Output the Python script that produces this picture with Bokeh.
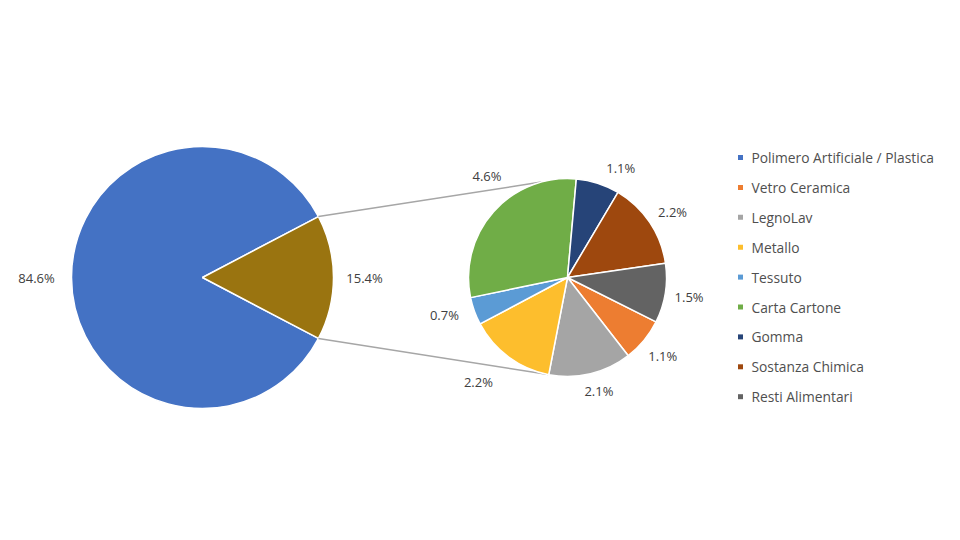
import math
from bokeh.plotting import figure
from bokeh.models import Range1d
from bokeh.embed import file_html
from bokeh.resources import INLINE
from bokeh.core.properties import value

# ---------------- data ----------------
main_categories = ["Polimero Artificiale / Plastica", "Altro"]
main_values = [84.6, 15.4]
main_label_text = ["84.6%", "15.4%"]

sub_categories = ["Vetro Ceramica", "LegnoLav", "Metallo", "Tessuto",
                  "Carta Cartone", "Gomma", "Sostanza Chimica", "Resti Alimentari"]
sub_values = [1.1, 2.1, 2.2, 0.7, 4.6, 1.1, 2.2, 1.5]
sub_label_text = ["1.1%", "2.1%", "2.2%", "0.7%", "4.6%", "1.1%", "2.2%", "1.5%"]

legend_labels = ["Polimero Artificiale / Plastica", "Vetro Ceramica", "LegnoLav", "Metallo",
                 "Tessuto", "Carta Cartone", "Gomma", "Sostanza Chimica", "Resti Alimentari"]

# ---------------- style ----------------
main_colors = ["#4472C4", "#9A7410"]
sub_colors = ["#ED7D31", "#A5A5A5", "#FDBE2D", "#5B9BD5", "#70AD47", "#264478", "#9E480E", "#636363"]
legend_colors = ["#4472C4"] + sub_colors
FONT = "Open Sans"
FSIZE = "13px"
LEG_FSIZE = "13.8px"
HW_PER_CHAR = 3.8
LABEL_COLOR = "#404040"
LEGEND_COLOR = "#4F4F4F"

W, H = 960, 540
C1 = (202, H - 277)
R1 = 131
C2 = (567, H - 277)
R2 = 99
SUB_START = math.radians(-26.6)
CONN_TOP = math.radians(105.4)
CONN_BOT = math.radians(-101.2)
main_label_pad = [16, 12]
# best-fit label placement tweaks (angle offset in degrees, extra distance in px)
sub_label_dang = [0, 2, -4, -3, -10, -8, -2, 0]
sub_label_dist = [0, 0, 15, 5, 8, 2, 0, 0]

p = figure(width=W, height=H, x_range=Range1d(0, W), y_range=Range1d(0, H),
           x_axis_type=None, y_axis_type=None, toolbar_location=None,
           output_backend="svg", min_border=0)
p.grid.visible = False
p.outline_line_color = None
p.background_fill_color = "white"
p.border_fill_color = "white"

# ---------- main pie ----------
tot_main = sum(main_values)
half = math.pi * main_values[1] / tot_main
p.wedge(x=C1[0], y=C1[1], radius=R1, start_angle=half, end_angle=2 * math.pi - half,
        fill_color=main_colors[0], line_color="white", line_width=1.5)
p.wedge(x=C1[0], y=C1[1], radius=R1, start_angle=-half, end_angle=half,
        fill_color=main_colors[1], line_color="white", line_width=1.5)


def label_pos(cx, cy, r, ang, txt, pad):
    hw = HW_PER_CHAR * len(txt)
    hh = 7
    d = r + pad + hw * abs(math.cos(ang)) + hh * abs(math.sin(ang))
    return cx + d * math.cos(ang), cy + d * math.sin(ang)


mids_main = [math.pi, 0.0]
mx, my = [], []
for a, t, pad in zip(mids_main, main_label_text, main_label_pad):
    x, y = label_pos(C1[0], C1[1], R1, a, t, pad)
    mx.append(x)
    my.append(y)
p.text(x=mx, y=my, text=main_label_text, text_font=value(FONT), text_font_size=FSIZE,
       text_color=LABEL_COLOR, text_align="center", text_baseline="middle")

# ---------- connector lines ----------
p.line(x=[C1[0] + R1 * math.cos(half), C2[0] + R2 * math.cos(CONN_TOP)],
       y=[C1[1] + R1 * math.sin(half), C2[1] + R2 * math.sin(CONN_TOP)],
       line_color="#A6A6A6", line_width=1.5)
p.line(x=[C1[0] + R1 * math.cos(-half), C2[0] + R2 * math.cos(CONN_BOT)],
       y=[C1[1] + R1 * math.sin(-half), C2[1] + R2 * math.sin(CONN_BOT)],
       line_color="#A6A6A6", line_width=1.5)

# ---------- secondary pie ----------
tot_sub = sum(sub_values)
k = 2 * math.pi / tot_sub
cum = 0.0
sx, sy = [], []
for v, col, t, da, dd in zip(sub_values, sub_colors, sub_label_text, sub_label_dang, sub_label_dist):
    a0 = SUB_START - cum * k
    a1 = a0 - v * k
    p.wedge(x=C2[0], y=C2[1], radius=R2, start_angle=a1, end_angle=a0,
            fill_color=col, line_color="white", line_width=1.5)
    mid = (a0 + a1) / 2 + math.radians(da)
    x, y = label_pos(C2[0], C2[1], R2, mid, t, 8 + dd)
    sx.append(x)
    sy.append(y)
    cum += v
p.text(x=sx, y=sy, text=sub_label_text, text_font=value(FONT), text_font_size=FSIZE,
       text_color=LABEL_COLOR, text_align="center", text_baseline="middle")

# ---------- legend ----------
LEG_X = 740
LEG_Y0 = H - 157
LEG_DY = 29.9
ly = [LEG_Y0 - i * LEG_DY for i in range(len(legend_labels))]
p.scatter(x=[LEG_X] * len(ly), y=ly, marker="square", size=5, fill_color=legend_colors,
          line_color=None)
p.text(x=[LEG_X + 11] * len(ly), y=ly, text=legend_labels, text_font=value(FONT),
       text_font_size=LEG_FSIZE, text_color=LEGEND_COLOR, text_align="left",
       text_baseline="middle")

open("out.html", "w").write(file_html(p, INLINE))
